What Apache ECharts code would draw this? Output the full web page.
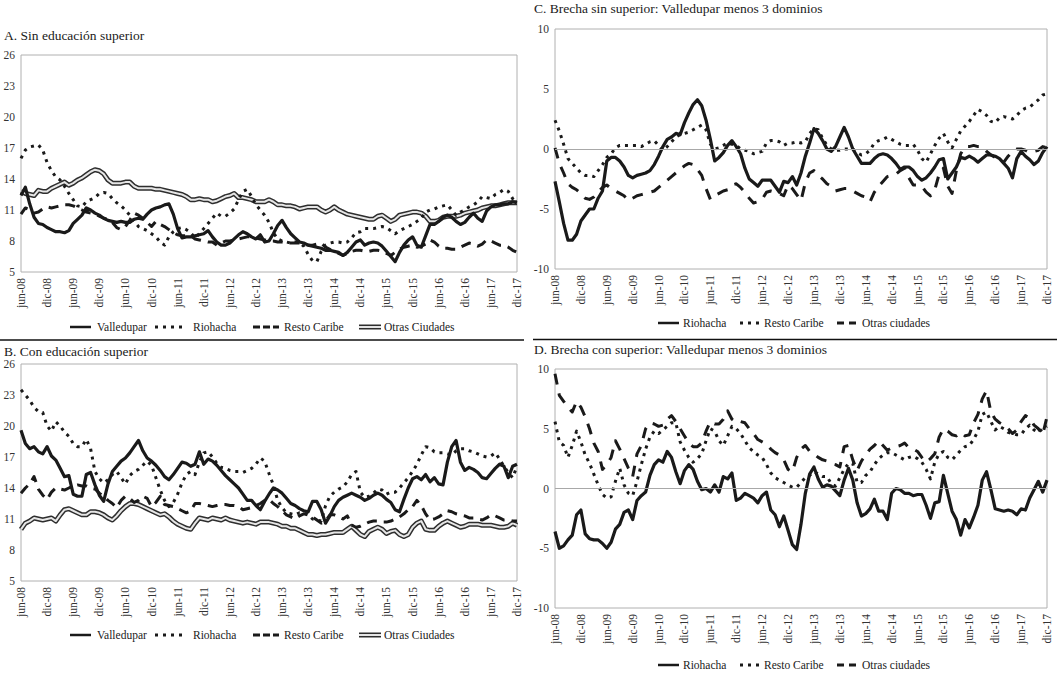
<!DOCTYPE html>
<html><head><meta charset="utf-8">
<script src="https://cdn.jsdelivr.net/npm/echarts@6.0.0/dist/echarts.min.js"></script>
<style>html,body{margin:0;padding:0;background:#fff;} #c{width:1057px;height:675px;}</style>
</head><body><div id="c"></div>
<script>
// ---------- categories (monthly, jun-08 .. dic-17) ----------
const monthAbbr = ['ene','feb','mar','abr','may','jun','jul','ago','sep','oct','nov','dic'];
const startYear = 2008, startMonth = 5, nMonths = 115;
const categories = [];
for (let k = 0; k < nMonths; k++) {
  const m = (startMonth + k) % 12, y = startYear + Math.floor((startMonth + k) / 12);
  categories.push(monthAbbr[m] + '-' + String(y % 100).padStart(2, '0'));
}
// ---------- tick values ----------
const levelTicks = [5, 8, 11, 14, 17, 20, 23, 26];
const gapTicks = [-10, -5, 0, 5, 10];

// ---------- A. Sin educación superior ----------
const vallA = [12.4,13.2,11.6,10.3,9.7,9.6,9.3,9.1,8.9,8.9,
  8.8,9.0,9.7,10.1,10.5,11.2,11.0,10.7,10.5,10.2,
  10.0,9.9,9.8,9.9,9.8,9.8,10.1,10.2,10.1,10.6,
  11.0,11.2,11.3,11.5,11.6,10.6,9.2,8.3,8.4,8.4,
  8.5,8.6,8.7,9.0,8.4,7.9,7.6,7.6,7.8,8.2,
  8.6,8.9,8.7,8.4,8.2,8.6,7.9,8.0,8.7,9.5,
  10.0,9.3,8.7,8.3,7.9,7.8,7.6,7.5,7.4,7.3,
  7.1,7.1,7.0,6.9,6.6,6.9,7.4,7.9,8.1,7.6,
  7.8,7.9,7.8,7.5,7.0,6.5,6.0,6.9,7.6,8.1,
  8.4,7.6,7.4,8.5,9.6,9.6,9.9,10.3,10.5,10.3,
  9.9,9.6,9.8,10.3,10.7,10.2,9.9,10.9,11.3,11.5,
  11.5,11.6,11.6,11.8,11.7];
const rioA = [16.0,16.8,17.1,17.2,17.3,16.8,15.6,14.8,14.2,13.9,
  13.3,12.6,12.0,11.4,11.3,11.8,12.0,12.2,12.6,12.7,
  12.6,12.1,11.7,11.4,11.0,10.5,9.9,9.4,9.2,9.0,
  8.7,8.4,7.9,7.6,8.4,8.9,9.2,9.3,9.1,8.8,
  8.3,8.7,9.2,9.7,10.2,10.7,10.4,10.4,10.7,11.1,
  12.0,12.8,13.0,12.3,11.5,11.0,10.5,9.8,8.8,8.2,
  8.0,7.9,7.8,7.9,7.8,7.5,6.7,6.1,6.0,7.0,
  7.6,7.8,7.9,7.9,7.8,7.9,8.3,8.8,8.9,9.2,
  9.2,9.2,9.3,9.4,9.3,9.0,8.7,9.0,9.2,9.4,
  9.6,9.9,10.2,10.8,11.0,11.1,11.3,11.4,11.5,11.0,
  10.5,10.8,11.0,11.3,11.5,11.8,12.3,12.2,12.1,12.5,
  12.7,13.0,12.8,12.1,11.8];
const restoA = [10.6,11.2,11.0,10.7,10.8,11.1,11.3,11.2,11.3,11.4,
  11.5,11.5,11.4,11.2,11.0,10.8,10.7,10.6,10.4,10.2,
  10.1,9.8,9.3,9.1,9.4,10.0,10.7,10.5,10.2,9.8,
  9.4,9.9,9.6,9.4,9.1,8.8,8.6,8.5,8.5,8.5,
  8.2,8.1,8.0,7.9,7.9,7.6,7.8,8.0,8.0,8.1,
  8.2,8.3,8.4,8.4,8.3,8.2,8.1,8.0,8.0,7.9,
  7.9,7.8,7.8,7.8,7.8,7.7,7.6,7.6,7.7,7.8,
  7.4,7.2,7.0,6.8,6.6,6.8,7.0,7.1,7.1,7.0,
  7.0,7.1,7.1,7.0,6.8,6.6,6.9,7.2,7.4,7.5,
  7.6,7.4,7.5,7.7,8.1,7.9,7.5,7.3,7.3,7.2,
  7.2,7.4,7.6,7.8,7.7,7.5,7.7,8.1,8.0,7.8,
  7.6,7.6,7.4,7.1,6.9];
const otrasA = [12.8,12.6,12.5,12.4,12.9,12.8,12.8,13.1,13.3,13.5,
  13.7,13.4,13.6,13.9,14.1,14.4,14.7,14.9,14.8,14.5,
  13.9,13.6,13.6,13.6,13.7,13.7,13.3,13.1,13.1,13.1,
  13.1,13.0,13.0,12.9,12.8,12.7,12.6,12.5,12.3,12.0,
  12.0,12.1,12.0,12.0,11.8,11.9,12.1,12.3,12.4,12.6,
  12.2,12.2,12.1,12.0,11.8,11.8,11.8,12.0,11.8,11.5,
  11.5,11.4,11.4,11.3,11.1,11.2,11.3,11.3,11.3,11.0,
  10.8,11.0,11.3,11.0,10.8,10.6,10.5,10.4,10.3,10.2,
  10.1,10.1,10.4,10.5,10.2,9.9,10.1,10.5,10.6,10.7,
  10.8,10.8,10.7,10.4,9.9,9.9,10.0,10.3,10.4,10.4,
  10.4,10.5,10.7,10.8,10.9,11.0,11.2,11.3,11.4,11.4,
  11.5,11.6,11.7,11.7,11.7];

// ---------- B. Con educación superior ----------
const vallB = [19.6,18.3,17.8,18.0,17.5,17.3,18.0,17.1,16.7,15.9,
  15.1,15.2,13.4,13.2,13.2,15.3,15.5,14.3,13.3,12.7,
  14.4,15.6,16.1,16.6,16.9,17.4,18.0,18.6,17.6,16.9,
  16.6,16.2,15.7,15.1,14.8,15.3,15.9,16.5,16.4,16.1,
  16.3,17.5,16.3,16.8,16.6,16.2,15.7,15.2,14.8,14.4,
  14.0,13.4,12.8,12.8,12.3,11.9,12.7,13.4,14.0,13.8,
  13.5,13.0,12.5,12.3,12.0,11.8,11.7,12.7,12.7,11.9,
  10.6,11.3,12.2,12.8,13.1,13.3,13.5,13.3,13.1,12.8,
  13.0,13.3,13.5,13.3,12.9,12.6,11.9,11.7,12.9,14.0,
  14.9,15.1,14.8,15.3,14.6,15.0,14.4,14.3,16.5,18.0,
  18.6,16.5,15.7,16.0,15.8,15.5,15.0,14.9,15.4,15.9,
  16.3,16.1,15.0,16.1,16.3];
const rioB = [23.5,23.0,22.5,21.8,21.4,21.3,20.0,19.5,20.4,20.0,
  19.4,19.0,18.3,18.0,18.0,18.7,17.8,15.6,14.9,14.5,
  14.8,15.3,15.6,15.0,14.4,15.2,15.6,15.8,16.2,16.6,
  16.2,15.0,13.8,12.8,12.2,12.6,13.4,14.5,15.3,15.6,
  15.3,16.5,17.4,17.5,17.0,16.4,16.0,15.9,15.7,15.6,
  15.6,15.5,15.7,15.9,16.3,16.9,16.6,15.4,14.3,12.8,
  12.1,11.6,11.5,11.4,11.6,11.6,11.4,11.0,10.9,10.8,
  12.3,13.2,13.6,13.9,14.1,14.6,15.3,15.6,13.6,13.1,
  13.2,13.5,13.9,13.8,13.4,13.6,13.6,14.0,14.5,15.0,
  15.6,16.3,17.2,18.0,17.9,17.5,17.4,17.4,17.3,17.2,
  17.6,17.8,17.8,17.6,17.5,17.3,17.1,17.0,17.1,17.4,
  16.8,16.1,15.5,15.0,16.1];
const restoB = [13.5,14.0,14.4,15.1,13.9,13.3,12.9,13.6,14.0,13.9,
  13.8,14.0,14.2,14.3,14.2,14.2,14.0,13.9,13.5,13.2,
  12.8,12.5,12.1,12.8,13.2,13.0,12.6,12.8,13.2,13.0,
  12.2,12.6,13.2,12.4,12.3,12.2,12.0,11.8,11.6,11.8,
  12.5,12.5,12.4,12.3,12.2,12.3,12.4,12.4,12.3,12.3,
  12.2,11.9,12.0,12.1,12.3,12.5,12.8,12.9,12.5,12.2,
  11.8,11.4,11.2,11.0,11.3,11.5,11.4,11.2,10.9,10.6,
  10.8,11.4,11.4,11.2,11.0,11.3,10.4,10.2,10.3,10.5,
  10.7,10.8,10.8,10.7,10.7,10.8,11.0,11.2,11.5,11.9,
  12.2,12.8,12.3,11.5,10.9,11.0,11.2,11.5,11.8,11.7,
  11.5,11.4,11.3,11.1,11.1,11.0,10.9,11.1,11.4,11.3,
  11.1,10.9,10.9,10.8,10.8];
const otrasB = [10.0,10.6,10.8,11.1,11.0,10.9,11.0,11.1,10.8,11.4,
  11.9,12.0,11.8,11.6,11.4,11.4,11.7,11.7,11.6,11.4,
  11.1,10.9,11.3,11.8,12.2,12.5,12.5,12.4,12.2,12.0,
  11.8,11.6,11.4,11.5,11.2,10.8,10.5,10.3,10.1,10.0,
  10.6,11.1,11.0,10.9,11.1,11.0,10.9,11.1,10.9,10.8,
  10.7,10.6,10.7,10.6,10.5,10.7,10.7,10.7,10.6,10.5,
  10.3,10.3,10.1,10.1,9.9,9.7,9.5,9.5,9.4,9.5,
  9.5,9.6,9.7,9.7,9.7,10.0,10.3,9.9,9.5,9.3,
  9.8,10.0,10.2,10.0,9.6,9.8,9.9,9.5,9.3,9.5,
  10.2,10.6,10.8,10.0,9.9,9.9,10.3,10.6,10.8,10.6,
  10.4,10.2,10.3,10.5,10.5,10.5,10.4,10.4,10.4,10.3,
  10.2,10.2,10.3,10.6,10.4];

// ---------- C. Brecha sin superior ----------
const rioC = [-2.7,-4.4,-6.2,-7.6,-7.6,-7.1,-6.0,-5.5,-5.0,-5.0,
  -4.1,-3.5,-1.0,-0.7,-0.7,-1.0,-1.5,-2.2,-2.4,-2.2,
  -2.1,-2.0,-1.8,-1.3,-0.6,0.2,0.8,1.0,1.3,1.2,
  2.2,3.0,3.7,4.1,3.6,2.4,0.8,-1.0,-0.7,-0.3,
  0.3,0.7,0.2,-0.4,-1.6,-2.5,-2.8,-3.1,-2.6,-2.6,
  -2.6,-3.1,-3.6,-2.7,-2.8,-2.3,-3.0,-2.0,-0.6,0.5,
  1.7,1.3,0.7,0.0,-0.2,0.2,1.0,1.8,1.0,0.0,
  -0.6,-1.2,-1.2,-1.2,-0.8,-0.5,-0.4,-0.5,-0.8,-1.2,
  -1.7,-1.5,-1.5,-1.8,-2.3,-2.6,-2.4,-2.0,-1.5,-0.9,
  -0.8,-2.5,-2.0,-1.5,-0.7,-0.8,-0.6,-0.8,-1.1,-0.8,
  -0.5,-0.5,-0.6,-0.8,-1.2,-1.6,-2.4,-0.8,-0.2,-0.6,
  -0.9,-1.3,-1.0,-0.3,0.2];
const restoC = [2.4,1.5,0.4,-0.8,-1.2,-1.6,-2.0,-2.2,-2.2,-2.3,
  -1.8,-1.3,-0.7,-0.4,0.1,0.3,0.3,0.3,0.3,0.3,
  0.2,0.4,0.6,0.7,0.3,-0.1,0.2,0.6,1.0,1.2,
  1.3,1.4,1.6,1.8,2.0,1.6,0.4,0.0,0.1,0.3,
  0.5,0.4,0.3,0.0,-0.1,-0.2,-0.4,-0.3,-0.2,0.5,
  0.7,0.7,0.6,0.3,0.5,0.5,0.6,0.5,0.6,1.3,
  1.7,1.6,0.9,0.3,0.0,-0.1,-0.1,0.0,0.0,0.0,
  -0.3,-0.5,-0.4,-0.1,0.5,0.7,0.8,1.0,0.8,0.6,
  0.4,0.3,0.3,0.4,-0.1,-0.8,-1.1,-0.4,0.3,0.9,
  1.3,0.6,0.1,0.8,1.5,1.9,2.3,2.8,3.3,3.1,
  2.8,2.3,2.2,2.6,2.7,2.6,2.5,2.8,3.2,3.4,
  3.5,3.8,4.1,4.5,4.6];
const otrasC = [0.1,-1.2,-2.0,-2.9,-3.2,-3.4,-3.7,-4.1,-4.2,-4.0,
  -3.6,-3.2,-3.0,-3.3,-3.5,-3.7,-3.9,-4.3,-4.1,-3.9,
  -3.8,-3.7,-3.6,-3.5,-3.2,-2.9,-2.6,-2.3,-2.0,-1.7,
  -1.4,-1.2,-1.3,-1.7,-2.2,-3.3,-4.2,-3.9,-3.7,-3.5,
  -3.4,-3.0,-2.9,-3.2,-3.6,-4.1,-4.5,-4.4,-4.2,-3.6,
  -3.5,-3.6,-3.7,-3.9,-3.0,-3.3,-3.8,-4.3,-2.8,-2.0,
  -1.8,-2.2,-2.5,-2.9,-3.1,-3.5,-3.4,-3.3,-3.3,-3.5,
  -3.7,-3.9,-4.0,-4.4,-3.6,-3.1,-2.7,-2.3,-2.2,-2.1,
  -1.8,-1.6,-2.4,-3.0,-3.0,-3.1,-3.6,-3.9,-3.4,-2.1,
  -1.6,-3.1,-3.7,-1.8,-0.4,0.2,0.2,0.3,0.2,0.2,
  -0.2,-0.5,-0.7,-1.0,-1.1,-0.6,-0.2,0.0,0.0,-0.1,
  -0.3,-0.2,-0.1,0.2,0.1];

// ---------- D. Brecha con superior ----------
const rioD = [-3.6,-5.0,-4.8,-4.3,-3.9,-2.2,-1.8,-3.8,-4.2,-4.3,
  -4.3,-4.6,-5.0,-4.5,-3.4,-3.0,-2.0,-1.8,-2.6,-1.0,
  -0.6,-0.3,1.1,2.0,2.4,2.2,3.1,2.6,1.4,0.4,
  1.5,2.0,1.6,0.6,-0.1,0.0,-0.3,0.3,-0.3,1.0,
  0.8,1.3,-1.0,-0.8,-0.4,-0.6,-0.8,-1.2,-0.6,-0.3,
  -1.8,-2.2,-3.2,-2.3,-3.5,-4.7,-5.1,-3.0,-0.4,1.2,
  1.8,0.8,0.1,0.3,0.2,-0.2,-0.6,0.7,1.7,0.7,
  -1.2,-2.3,-2.1,-1.7,-0.9,-1.9,-1.9,-2.6,-0.4,0.0,
  -0.1,-0.4,-0.4,-0.6,-0.5,-0.5,-1.4,-2.5,-1.2,-1.1,
  1.1,-0.4,-1.9,-2.6,-3.9,-2.6,-3.3,-2.4,-1.4,0.7,
  1.4,-0.1,-1.7,-1.8,-1.9,-1.8,-1.9,-2.2,-1.7,-1.8,
  -0.8,-0.1,0.6,-0.3,0.7];
const restoD = [5.6,3.9,3.6,2.6,3.6,4.8,3.9,2.8,2.1,1.2,
  0.3,-0.5,-0.8,-0.7,0.6,1.7,0.3,-0.4,-0.6,0.6,
  2.0,3.3,4.3,4.8,4.6,4.9,5.2,5.5,5.5,3.9,
  3.2,2.6,2.2,2.5,2.9,4.0,5.0,4.8,4.0,3.6,
  4.4,5.2,5.0,4.6,4.0,3.4,3.1,2.8,2.6,2.0,
  1.3,0.9,0.7,0.5,0.3,0.1,0.1,0.5,0.9,1.1,
  1.4,1.2,1.0,1.0,0.4,0.2,0.9,1.6,2.1,2.1,
  0.5,0.5,1.1,1.4,2.0,2.5,2.8,3.0,3.0,2.8,
  2.6,2.4,2.6,2.7,2.5,2.2,1.6,0.8,2.2,2.9,
  3.1,2.6,2.4,2.8,3.2,3.5,3.6,4.1,4.8,6.2,
  6.4,5.6,4.9,5.2,5.0,4.7,4.6,4.5,4.5,5.0,
  5.3,4.9,4.7,5.0,5.2];
const otrasD = [9.6,7.8,7.3,6.8,6.4,7.3,6.8,6.0,5.0,3.8,
  3.1,1.6,2.0,2.6,4.0,3.3,2.5,1.7,1.0,2.9,
  3.6,5.0,5.5,5.4,5.2,5.3,5.8,6.1,5.6,5.0,
  4.4,3.8,3.5,3.5,3.8,4.8,5.6,5.4,5.4,5.8,
  6.5,5.8,5.5,5.6,5.5,5.0,4.6,4.1,3.9,3.7,
  3.3,3.0,2.8,2.4,1.6,1.4,2.6,3.3,3.6,3.1,
  2.9,2.6,2.4,2.3,2.1,2.0,1.8,3.5,3.6,2.4,
  1.5,2.3,2.8,3.3,3.6,4.0,3.6,3.2,3.4,3.5,
  3.6,3.8,3.4,3.3,3.1,2.6,2.2,2.5,2.9,4.3,
  5.0,4.8,4.5,4.4,4.7,4.4,4.5,5.5,6.2,7.5,
  8.2,6.4,5.8,5.5,5.3,5.0,4.6,4.9,5.6,6.1,
  5.9,5.3,5.0,4.5,6.0];

// ---------- chart ----------
const FONT = 'Liberation Serif';
const INK = '#1a1a1a';
const grids = [
  {left: 21, top: 55, width: 496, height: 217},   // A
  {left: 21, top: 364, width: 496, height: 217},  // B
  {left: 555, top: 29, width: 492, height: 240},  // C
  {left: 555, top: 369, width: 492, height: 239}  // D
].map(g => Object.assign(g, {show: true, borderColor: '#b0b0b0', borderWidth: 1, containLabel: false}));

const xAxes = grids.map((g, i) => ({
  type: 'category', gridIndex: i, data: categories, boundaryGap: false,
  axisLine: {show: false}, axisTick: {show: false}, splitLine: {show: false},
  axisLabel: {interval: 5, rotate: 90, fontFamily: FONT, fontSize: 11.5, color: '#333', margin: 6}
}));
const yAxes = grids.map((g, i) => {
  const t = i < 2 ? levelTicks : gapTicks;
  return {
    type: 'value', gridIndex: i, min: t[0], max: t[t.length - 1], interval: t[1] - t[0],
    axisLine: {show: false}, axisTick: {show: false}, splitLine: {show: false},
    axisLabel: {fontFamily: FONT, fontSize: 11.5, color: '#333', margin: 6}
  };
});

const STY = {
  solid: {color: INK, width: 3.2, type: 'solid'},
  dot: {color: INK, width: 3, type: [3, 5]},
  dash: {color: INK, width: 3, type: [10, 7]},
  dashLong: {color: INK, width: 3, type: [11, 9]}
};
function line(name, data, gi, style, z) {
  return {type: 'line', name, data, xAxisIndex: gi, yAxisIndex: gi, symbol: 'none', showSymbol: false,
    lineStyle: Object.assign({cap: 'butt', join: 'round'}, style), silent: true, z: z || 2, animation: false};
}
function doubleLine(name, data, gi) {
  return [
    line(name, data, gi, {color: '#2e2e2e', width: 5, type: 'solid'}, 2),
    line(name + ' (interior)', data, gi, {color: '#e6e6e6', width: 2, type: 'solid'}, 2)
  ];
}
const zeroLine = {silent: true, symbol: 'none', label: {show: false},
  lineStyle: {color: '#a8a8a8', width: 1, type: 'solid'}, data: [{yAxis: 0}]};

const series = [
  ...doubleLine('Otras Ciudades', otrasA, 0),
  line('Resto Caribe', restoA, 0, STY.dash, 3),
  line('Riohacha', rioA, 0, STY.dot, 3),
  line('Valledupar', vallA, 0, STY.solid, 4),
  ...doubleLine('Otras Ciudades', otrasB, 1),
  line('Resto Caribe', restoB, 1, STY.dash, 3),
  line('Riohacha', rioB, 1, STY.dot, 3),
  line('Valledupar', vallB, 1, STY.solid, 4),
  Object.assign(line('Otras ciudades', otrasC, 2, STY.dashLong, 3), {markLine: zeroLine}),
  line('Resto Caribe', restoC, 2, STY.dot, 3),
  line('Riohacha', rioC, 2, STY.solid, 4),
  Object.assign(line('Otras ciudades', otrasD, 3, STY.dashLong, 3), {markLine: zeroLine}),
  line('Resto Caribe', restoD, 3, STY.dot, 3),
  line('Riohacha', rioD, 3, STY.solid, 4)
];

// ---------- titles, legends, separators (graphic) ----------
function txt(x, y, text, size) {
  return {type: 'text', x, y, silent: true,
    style: {text, fontFamily: FONT, fontSize: size, fill: '#1a1a1a', verticalAlign: 'middle', textVerticalAlign: 'middle'}};
}
function seg(x1, x2, y, stroke, w, dash) {
  const s = {stroke, lineWidth: w};
  if (dash) s.lineDash = dash;
  return {type: 'line', silent: true, shape: {x1, y1: y, x2, y2: y}, style: s};
}
function legendRow(y, items) {
  const out = [];
  items.forEach(it => {
    if (it.kind === 'double') {
      out.push(seg(it.x1, it.x2, y, '#2e2e2e', 5));
      out.push(seg(it.x1, it.x2, y, '#e6e6e6', 2));
    } else if (it.kind === 'dot') {
      out.push(seg(it.x1, it.x2, y, INK, 3, [3, 5]));
    } else if (it.kind === 'dash') {
      out.push(seg(it.x1, it.x2, y, INK, 3, it.dash));
    } else {
      out.push(seg(it.x1, it.x2, y, INK, 2.5));
    }
    out.push(txt(it.tx, y, it.label, 11.5));
  });
  return out;
}
const leftLegend = [
  {kind: 'solid', x1: 70, x2: 91, tx: 97, label: 'Valledupar'},
  {kind: 'dot', x1: 155, x2: 186, tx: 193, label: 'Riohacha'},
  {kind: 'dash', x1: 253, x2: 279, tx: 284, label: 'Resto Caribe', dash: [7, 3]},
  {kind: 'double', x1: 359, x2: 381, tx: 384, label: 'Otras Ciudades'}
];
const rightLegend = [
  {kind: 'solid', x1: 658, x2: 679, tx: 683, label: 'Riohacha'},
  {kind: 'dot', x1: 740, x2: 762, tx: 764, label: 'Resto Caribe'},
  {kind: 'dash', x1: 837, x2: 856, tx: 862, label: 'Otras ciudades', dash: [7, 5]}
];
const graphics = [
  txt(4, 35, 'A. Sin educación superior', 13.5),
  txt(4, 351, 'B. Con educación superior', 13.5),
  txt(534, 8, 'C. Brecha sin superior: Valledupar menos 3 dominios', 13.5),
  txt(534, 349, 'D. Brecha con superior: Valledupar menos 3 dominios', 13.5),
  seg(0, 524, 340, '#111', 1.5),
  seg(533, 1057, 339.5, '#111', 1.5),
  ...legendRow(327, leftLegend),
  ...legendRow(635, leftLegend),
  ...legendRow(323, rightLegend),
  ...legendRow(665, rightLegend)
];

const chart = echarts.init(document.getElementById('c'), null, {renderer: 'svg', width: 1057, height: 675});
chart.setOption({
  animation: false,
  backgroundColor: '#ffffff',
  grid: grids, xAxis: xAxes, yAxis: yAxes, series,
  graphic: graphics
});
</script>
</body></html>
